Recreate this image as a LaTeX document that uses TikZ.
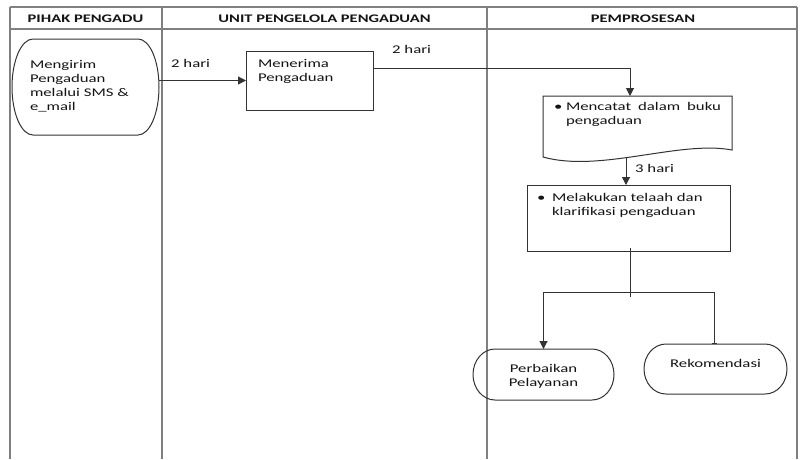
\documentclass[tikz,border=0pt]{standalone}
\usepackage{fontspec}
\setmainfont[FakeStretch=1.42]{Carlito}
\usetikzlibrary{arrows.meta,calc}

% box of fixed height with text hung from the top; #3 = first baseline below the top
\newcommand\topbox[4]{\parbox[c][#1][t]{#2}{\raggedright\rule{0pt}{#3}#4}}
\newcommand\centerbox[4]{\parbox[c][#1][t]{#2}{\centering\rule{0pt}{#3}#4}}

% terminator outline around a node: straight top and bottom, half-ellipse ends
\newcommand\terminalshape[3]{%
  \draw[shapeline] ($(#1.north west)+(#2,0pt)$) -- ($(#1.north east)+(-#2,0pt)$)
    arc[start angle=90, end angle=-90, x radius=#2, y radius=#3]
    -- ($(#1.south west)+(#2,0pt)$)
    arc[start angle=270, end angle=90, x radius=#2, y radius=#3] -- cycle;}

\begin{document}
\begin{tikzpicture}[x=1pt, y=-1pt,
  every node/.style={font=\fontsize{11.8pt}{14.3pt}\selectfont, text=black!92},
  lane/.style={draw=black!50, line width=1.6pt},
  shapeline/.style={draw=black!80, line width=1pt},
  plain/.style={inner sep=0pt, outer sep=0pt},
  procbox/.style={plain, shapeline},
  head/.style={font=\fontsize{11.6pt}{13pt}\selectfont\bfseries, anchor=base, inner sep=0pt},
  lbl/.style={anchor=base west, inner sep=0pt},
  flow/.style={draw=black!80, line width=1pt, -{Triangle[length=8pt,width=8pt]}},
  flowbar/.style={draw=black!80, line width=0.9pt, -{Bar[width=5pt]}},
  link/.style={draw=black!80, line width=1pt}
]
\useasboundingbox (0,0) rectangle (805,459);
\fill[white] (0,0) rectangle (805,459);

% swimlane frame
\draw[lane] (10,7) -- (797,7);
\draw[lane] (10,29) -- (797,29);
\foreach \lx in {10,162,487,797} \draw[lane] (\lx,7) -- (\lx,459);

\node[head] (h1) at (85.5,22) {PIHAK PENGADU};
\node[head] (h2) at (324.5,22) {UNIT PENGELOLA PENGADUAN};
\node[head] (h3) at (643,22) {PEMPROSESAN};

% steps
\node[plain, minimum width=147pt, minimum height=96pt] (send) at (85.5,87)
  {\topbox{96pt}{111pt}{29pt}{Mengirim\\Pengaduan\\melalui SMS \&\\e\_mail}};
\terminalshape{send}{21pt}{48pt}

\node[procbox, minimum width=127pt, minimum height=59pt] (recv) at (309.5,80.5)
  {\topbox{59pt}{103pt}{16pt}{Menerima\\Pengaduan}};

\node[plain, minimum width=189pt, minimum height=62pt] (rec) at (637.5,127)
  {\topbox{62pt}{167pt}{14.5pt}{\makebox[12pt][l]{\textbullet}\makebox[155pt][s]{Mencatat dalam buku}\\
   \hspace*{12pt}pengaduan}};
\draw[shapeline] (543,96) -- (732,96) -- (732,150)
  .. controls (680,140) and (600,173) .. (543,157) -- cycle;

\node[procbox, minimum width=203pt, minimum height=66pt] (chk) at (628.5,218)
  {\topbox{66pt}{183pt}{16pt}{\makebox[15pt][l]{\textbullet}Melakukan telaah dan\\
   \hspace*{15pt}klarifikasi pengaduan}};

\node[plain, minimum width=141pt, minimum height=51pt] (perb) at (543.5,374.5)
  {\centerbox{51pt}{120pt}{23.5pt}{Perbaikan\\Pelayanan}};
\terminalshape{perb}{22pt}{25.5pt}

\node[plain, minimum width=143pt, minimum height=50pt] (rek) at (715.5,369)
  {\centerbox{50pt}{120pt}{23pt}{Rekomendasi}};
\terminalshape{rek}{22pt}{25pt}

% connectors
\draw[flow] (send.east |- recv.west) -- (recv.west);
\node[lbl] (d1) at (171,67) {2 hari};

\coordinate (intop) at ([xshift=-7.5pt]rec.north);
\draw[flow] ([yshift=-17pt]recv.north east) -| (intop);
\node[lbl] (d2) at (392,53) {2 hari};

\coordinate (inchk) at ([xshift=-2.5pt]chk.north);
\draw[flow] (inchk |- rec.south) -- (inchk);
\node[lbl] (d3) at (635,172) {3 hari};

\coordinate (fork) at (630,292);
\draw[link] ([yshift=3pt]chk.south -| fork) -- ([yshift=-5pt]fork);
\draw[flow] (fork) -| (perb.north);
\draw[flowbar] (fork) -| ([xshift=-1.5pt]rek.north);
\end{tikzpicture}
\end{document}
